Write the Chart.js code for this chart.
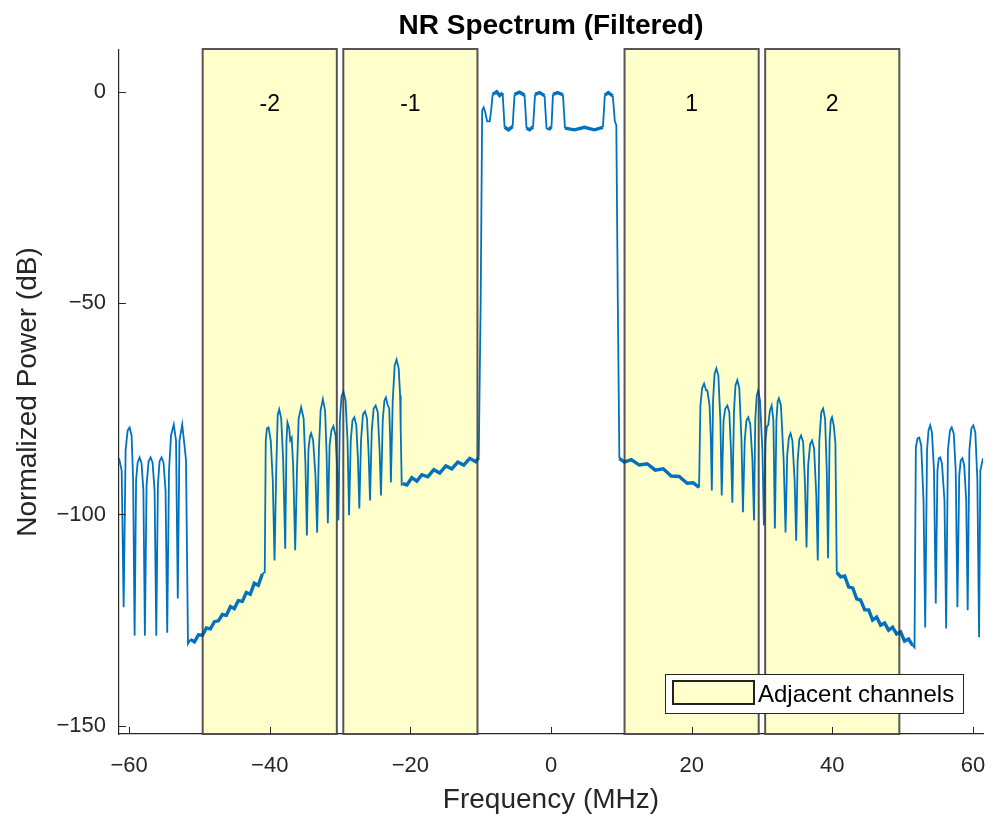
<!DOCTYPE html>
<html>
<head>
<meta charset="utf-8">
<script src="https://cdn.jsdelivr.net/npm/chart.js@4.4.1/dist/chart.umd.min.js"></script>
<style>
    html, body { margin: 0; padding: 0; background: #fff; }
    #wrap { width: 997px; height: 827px; }
</style>
</head>
<body>
<div id="wrap"><canvas id="grafico" width="997" height="827"></canvas></div>
<script>
// espectro (MHz, dB)
const freqMHz = [
    -61.44, -61.06, -60.78, -60.50, -60.21, -59.93, -59.65, -59.43, -59.22, -59.01,
    -58.79, -58.51, -58.23, -57.97, -57.76, -57.52, -57.23, -56.95, -56.67, -56.38,
    -56.14, -55.91, -55.67, -55.39, -55.11, -54.82, -54.58, -54.33, -54.04, -53.65,
    -53.33, -53.08, -52.84, -52.45, -52.13, -51.91, -51.63,
    -51.28, -50.71, -50.14, -49.57, -49.01, -48.44, -47.87, -47.30, -46.74, -46.17,
    -45.60, -45.04, -44.47, -43.90, -43.33, -42.77, -42.20, -41.63, -41.06, -40.71,
    -40.57, -40.40, -40.17, -39.86, -39.57, -39.32, -39.08, -38.87, -38.65, -38.37,
    -38.09, -37.80, -37.62, -37.48, -37.23, -37.09, -36.88, -36.67, -36.38, -36.13,
    -35.89, -35.53, -35.18, -34.92, -34.72, -34.50, -34.28, -34.11, -33.83, -33.50,
    -33.26, -33.01, -32.77, -32.45, -32.13, -31.91, -31.74, -31.49, -31.23, -30.95,
    -30.64, -30.43, -30.24, -30.03, -29.79, -29.53, -29.22, -28.94, -28.72, -28.48,
    -28.23, -27.97, -27.69, -27.45, -27.26, -27.02, -26.74, -26.45, -26.17, -25.93,
    -25.74, -25.49, -25.22, -24.94, -24.64, -24.38, -24.18, -23.93, -23.69, -23.48,
    -23.26, -23.01, -22.87, -22.77, -22.51, -22.23, -21.96, -21.66, -21.46, -21.38,
    -21.23, -21.06,
    -20.50, -19.79, -19.08, -18.37, -17.52, -16.67, -15.82, -14.96, -14.11, -13.26,
    -12.41, -11.56, -10.71, -10.28,
    -10.00, -9.79, -9.57, -9.36, -9.08, -8.72, -8.51, -8.30, -7.73, -7.30,
    -6.88, -6.60, -6.03, -5.46, -5.18, -4.47, -3.76, -3.48, -3.05, -2.55,
    -2.27, -1.63, -0.92, -0.64, -0.35, 0.07, 0.28, 0.92, 1.70, 1.99,
    3.33, 4.75, 6.17, 7.38, 7.66, 8.16, 8.79, 9.08, 9.29, 9.50,
    9.72,
    10.43, 11.42, 12.55, 13.69, 14.82, 15.96, 17.09, 18.23, 19.36, 20.21,
    21.06,
    21.25, 21.49, 21.77, 22.06, 22.24, 22.55, 22.74, 22.87, 23.05, 23.26,
    23.52, 23.80, 24.09, 24.28, 24.54, 24.79, 25.08, 25.36, 25.60, 25.79,
    26.03, 26.24, 26.50, 26.78, 27.09, 27.30, 27.55, 27.80, 28.06, 28.34,
    28.65, 28.87, 29.05, 29.26, 29.48, 29.72, 30.07, 30.28, 30.50, 30.71,
    30.89, 31.13, 31.38, 31.63, 31.84, 32.06, 32.24, 32.41, 32.70, 33.09,
    33.36, 33.59, 33.83, 34.07, 34.33, 34.65, 34.87, 35.08, 35.32, 35.57,
    35.86, 36.13, 36.34, 36.57, 36.85, 37.13, 37.42, 37.73, 37.94, 38.16,
    38.44, 38.70, 38.98, 39.22, 39.40, 39.62, 39.79, 39.97, 40.21, 40.45,
    40.64,
    41.21, 41.77, 42.34, 42.91, 43.48, 44.04, 44.61, 45.18, 45.74, 46.31,
    46.88, 47.45, 48.01, 48.58, 49.15, 49.72, 50.28, 50.85, 51.42, 51.70,
    51.89, 52.13, 52.37, 52.65, 52.98, 53.22, 53.48, 53.69, 53.93, 54.18,
    54.47, 54.72, 54.96, 55.15, 55.35, 55.60, 55.96, 56.20, 56.45, 56.74,
    56.99, 57.28, 57.56, 57.80, 58.06, 58.27, 58.51, 58.77, 59.05, 59.26,
    59.50, 59.79, 60.07, 60.35, 60.64, 60.88, 61.06, 61.44
];
const powerDb = [
    -86.7, -89.6, -122.0, -84.8, -80.1, -79.4, -81.3, -91.9, -128.7, -91.9,
    -87.7, -86.5, -87.9, -94.3, -128.7, -93.1, -87.4, -86.5, -87.7, -94.3,
    -128.7, -93.1, -87.4, -86.5, -87.7, -94.3, -128.0, -89.6, -81.3, -78.7,
    -82.5, -119.9, -82.5, -78.7, -83.6, -87.2, -130.6,
    -129.6, -130.2, -128.5, -128.6, -126.9, -127.1, -125.4, -125.2, -123.7, -123.9,
    -121.8, -122.3, -120.4, -120.6, -118.5, -118.9, -116.3, -116.8, -114.1, -113.7,
    -82.5, -79.6, -79.4, -82.5, -91.9, -110.9, -89.6, -76.5, -75.1, -77.3,
    -87.2, -108.1, -82.5, -78.2, -79.6, -82.5, -81.8, -88.4, -108.5, -89.6,
    -77.3, -74.6, -77.3, -88.4, -105.0, -84.8, -81.5, -80.8, -82.5, -90.8,
    -104.3, -84.8, -75.4, -72.7, -75.4, -86.0, -102.1, -83.6, -80.1, -79.1,
    -81.3, -88.4, -101.4, -77.7, -72.0, -70.9, -73.0, -82.5, -100.2, -82.5,
    -77.7, -77.0, -78.9, -87.2, -98.6, -82.5, -76.3, -75.6, -77.3, -86.0,
    -96.7, -80.1, -74.9, -74.2, -75.8, -84.8, -95.5, -77.7, -73.0, -72.3,
    -73.9, -74.9, -82.5, -92.4, -73.0, -64.7, -63.3, -65.4, -71.8, -79.4,
    -92.9, -92.7,
    -93.0, -91.3, -92.1, -90.6, -91.1, -89.4, -90.2, -88.5, -89.2, -87.6,
    -88.3, -86.7, -87.5, -86.5,
    -49.3, -4.3, -3.6, -4.7, -6.9, -6.9, -4.3, -0.5, 0.1, -0.8,
    -0.2, -8.3, -8.9, -8.1, -0.5, 0.0, -0.7, -8.5, -8.9, -8.2,
    -0.5, -0.1, -0.8, -8.5, -8.9, -8.2, -0.5, -0.1, -0.6, -8.5,
    -8.9, -8.3, -8.9, -8.3, -0.7, -0.1, -0.9, -6.9, -7.8, -49.3,
    -86.7,
    -87.6, -87.0, -88.3, -88.0, -89.5, -89.2, -90.9, -91.0, -92.6, -92.5,
    -93.6,
    -74.2, -70.1, -69.0, -70.6, -70.6, -74.2, -82.5, -94.3, -73.0, -66.8,
    -65.4, -67.1, -77.7, -95.5, -77.7, -74.9, -74.2, -75.8, -84.8, -97.2,
    -75.4, -69.4, -68.2, -70.1, -82.5, -99.5, -82.5, -77.7, -77.0, -78.7,
    -87.2, -101.4, -77.7, -71.8, -70.6, -73.0, -84.8, -102.6, -82.5, -79.1,
    -78.9, -75.4, -74.2, -77.7, -103.3, -77.7, -73.2, -72.5, -74.2, -87.2,
    -104.3, -86.0, -81.8, -80.8, -82.5, -91.9, -106.2, -87.2, -82.2, -81.3,
    -82.9, -93.1, -107.8, -88.4, -83.4, -82.5, -84.4, -95.5, -110.9, -82.5,
    -75.8, -74.9, -77.3, -89.6, -110.4, -82.5, -77.7, -77.0, -78.9, -83.2,
    -113.7,
    -114.8, -114.6, -117.2, -117.4, -120.0, -120.3, -122.6, -122.6, -125.0, -124.3,
    -126.2, -125.7, -127.4, -126.7, -128.3, -127.8, -130.0, -129.5, -131.0, -131.5,
    -84.1, -82.0, -81.8, -83.6, -96.7, -126.8, -84.8, -80.1, -78.9, -80.6,
    -89.6, -121.1, -89.6, -86.7, -86.5, -87.9, -96.7, -127.0, -84.8, -80.1,
    -79.4, -80.8, -89.6, -122.0, -90.8, -87.2, -86.7, -88.4, -96.7, -122.7,
    -84.8, -79.6, -78.9, -80.6, -91.9, -129.1, -89.6, -86.7
];

// canais adjacentes (MHz)
const channelStart = [-49.54, -29.54, 10.46, 30.46];
const channelEnd = [-30.46, -10.46, 29.54, 49.54];
const channelNames = ['-2', '-1', '1', '2'];
const channelLabelDb = -3;

const xTicks = [-60, -40, -20, 0, 20, 40, 60];
const yTicks = [-150, -100, -50, 0];

if (freqMHz.length !== powerDb.length) {
    console.error("Tamanhos diferentes:", freqMHz.length, powerDb.length);
}

const FONTE = '"Liberation Sans", Arial, Helvetica, sans-serif';
const CINZA = '#262626';
const AMARELO = 'rgb(255, 255, 204)';
const BORDA = 'rgba(55, 55, 55, 0.85)';

const pontos = freqMHz.map((f, i) => ({ x: f, y: powerDb[i] }));

function retangulo(chart, i) {
    const x = chart.scales.x;
    const area = chart.chartArea;
    const x1 = x.getPixelForValue(channelStart[i]);
    const x2 = x.getPixelForValue(channelEnd[i]);
    return { x1, x2, top: area.top - 1, bottom: area.bottom };
}

const canaisPlugin = {
    id: 'canais',
    beforeDatasetsDraw(chart) {
        const ctx = chart.ctx;
        ctx.save();
        ctx.fillStyle = AMARELO;
        for (let i = 0; i < channelStart.length; i++) {
            const r = retangulo(chart, i);
            ctx.fillRect(r.x1, r.top, r.x2 - r.x1, r.bottom - r.top);
        }
        ctx.restore();
    },
    afterDatasetsDraw(chart) {
        const ctx = chart.ctx;
        const area = chart.chartArea;
        const xs = chart.scales.x;
        const ys = chart.scales.y;
        ctx.save();

        // bordas dos canais
        ctx.strokeStyle = BORDA;
        ctx.lineWidth = 2;
        for (let i = 0; i < channelStart.length; i++) {
            const r = retangulo(chart, i);
            ctx.strokeRect(r.x1, r.top, r.x2 - r.x1, r.bottom - r.top);
        }

        // nomes dos canais
        ctx.fillStyle = '#000';
        ctx.font = '23px ' + FONTE;
        ctx.textAlign = 'center';
        ctx.textBaseline = 'middle';
        for (let i = 0; i < channelStart.length; i++) {
            const cx = xs.getPixelForValue((channelStart[i] + channelEnd[i]) / 2);
            ctx.fillText(channelNames[i], cx, ys.getPixelForValue(channelLabelDb));
        }

        // ticks para dentro
        ctx.strokeStyle = CINZA;
        ctx.lineWidth = 1;
        ctx.beginPath();
        xTicks.forEach(v => {
            const px = Math.round(xs.getPixelForValue(v)) + 0.5;
            ctx.moveTo(px, area.bottom);
            ctx.lineTo(px, area.bottom - 7);
        });
        yTicks.forEach(v => {
            const py = Math.round(ys.getPixelForValue(v)) + 0.5;
            ctx.moveTo(area.left, py);
            ctx.lineTo(area.left + 7, py);
        });
        ctx.stroke();

        // legenda
        const lx = area.right - 318, ly = area.bottom - 60, lw = 298, lh = 39;
        ctx.fillStyle = '#fff';
        ctx.fillRect(lx, ly, lw, lh);
        ctx.strokeStyle = CINZA;
        ctx.lineWidth = 1;
        ctx.strokeRect(lx + 0.5, ly + 0.5, lw, lh);
        ctx.fillStyle = AMARELO;
        ctx.fillRect(lx + 8, ly + 7, 81, 23);
        ctx.strokeStyle = '#222';
        ctx.lineWidth = 2;
        ctx.strokeRect(lx + 8, ly + 7, 81, 23);
        ctx.fillStyle = '#000';
        ctx.font = '24px ' + FONTE;
        ctx.textAlign = 'left';
        ctx.textBaseline = 'middle';
        ctx.fillText('Adjacent channels', lx + 93, ly + 21);

        // titulo
        ctx.fillStyle = '#000';
        ctx.font = 'bold 28px ' + FONTE;
        ctx.textAlign = 'center';
        ctx.fillText('NR Spectrum (Filtered)', (area.left + area.right) / 2, 26);

        ctx.restore();
    }
};

const ctx = document.getElementById('grafico').getContext('2d');
window.myChart = new Chart(ctx, {
    type: 'line',
    data: {
        datasets: [{
            label: 'Espectro',
            data: pontos,
            borderColor: '#0072BD',
            borderWidth: 1.8,
            pointRadius: 0,
            tension: 0,
            fill: false,
            segment: {
                // trechos de ruido (rampas e topo) ficam mais grossos
                borderWidth: c => {
                    const dx = c.p1.parsed.x - c.p0.parsed.x;
                    const dy = Math.abs(c.p1.parsed.y - c.p0.parsed.y);
                    return (dx > 0.4 && dy < 4) ? 3.4 : 1.8;
                }
            }
        }]
    },
    options: {
        responsive: false,
        animation: false,
        devicePixelRatio: 1,
        parsing: false,
        layout: { padding: { top: 50, right: 14, left: 0, bottom: 0 } },
        scales: {
            x: {
                type: 'linear',
                min: -61.44,
                max: 61.44,
                afterBuildTicks: scale => { scale.ticks = xTicks.map(v => ({ value: v })); },
                afterFit: scale => {
                    scale.height = 93;
                    scale.paddingLeft = 0;
                    scale.paddingRight = 0;
                },
                grid: { display: false, drawTicks: false },
                border: { display: true, color: CINZA, width: 1.2 },
                ticks: {
                    color: CINZA,
                    padding: 19,
                    maxRotation: 0,
                    font: { size: 22, family: FONTE },
                    callback: v => String(v).replace('-', '\u2212')
                },
                title: {
                    display: true,
                    text: 'Frequency (MHz)',
                    color: CINZA,
                    font: { size: 28, family: FONTE },
                    padding: { top: 0, bottom: 10 }
                }
            },
            y: {
                type: 'linear',
                min: -152,
                max: 10,
                afterBuildTicks: scale => { scale.ticks = yTicks.map(v => ({ value: v })); },
                afterFit: scale => { scale.width = 119; },
                grid: { display: false, drawTicks: false },
                border: { display: true, color: CINZA, width: 1.2 },
                ticks: {
                    color: CINZA,
                    padding: 13,
                    font: { size: 22, family: FONTE },
                    callback: v => String(v).replace('-', '\u2212')
                },
                title: {
                    display: true,
                    text: 'Normalized Power (dB)',
                    color: CINZA,
                    font: { size: 28, family: FONTE },
                    padding: { top: 11, bottom: 0 }
                }
            }
        },
        plugins: {
            legend: { display: false },
            tooltip: { enabled: false },
            title: { display: false }
        }
    },
    plugins: [canaisPlugin]
});
</script>
</body>
</html>
